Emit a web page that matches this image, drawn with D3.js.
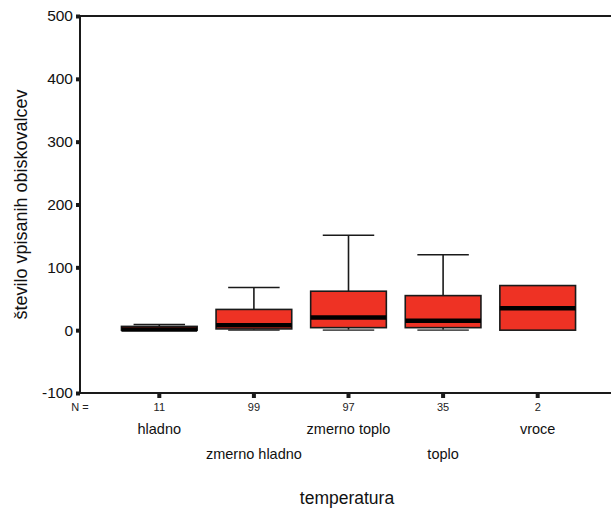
<!DOCTYPE html>
<html>
<head>
<meta charset="utf-8">
<script src="https://cdn.jsdelivr.net/npm/d3@7"></script>
<style>
  html, body { margin: 0; padding: 0; background: #fff; }
  svg { display: block; font-family: "Liberation Sans", Arial, sans-serif; }
</style>
</head>
<body>
<svg id="chart" width="611" height="511"></svg>
<script>
// Box plot: number of enrolled visitors by temperature class
const categories = ["hladno", "zmerno hladno", "zmerno toplo", "toplo", "vroce"];
const counts     = [11, 99, 97, 35, 2];
const whiskerLow = [0, 0, 0, 0, 0];
const q1         = [0, 2, 4, 4, 0];
const medians    = [1, 8, 20, 15, 35];
const q3         = [6, 33, 62, 55, 71];
const whiskerHigh= [9, 68, 151, 120, 71];
const yTicks     = [-100, 0, 100, 200, 300, 400, 500];

const svg = d3.select("#chart");
const plotLeft = 80, plotRight = 611, plotTop = 16, plotBottom = 393;
const fontFam = "Liberation Sans, Arial, sans-serif";

const x = d3.scaleBand().domain(categories).range([112, 585]).paddingInner(0.2).paddingOuter(0.1);
const y = d3.scaleLinear().domain([-100, 500]).range([plotBottom, plotTop]);

const ink = "#1a1a1a";
const fill = "#ee3224";

// frame lines
svg.append("line").attr("x1", plotLeft).attr("x2", plotRight).attr("y1", plotTop).attr("y2", plotTop)
  .attr("stroke", ink).attr("stroke-width", 2);
svg.append("line").attr("x1", plotLeft).attr("x2", plotRight).attr("y1", plotBottom).attr("y2", plotBottom)
  .attr("stroke", ink).attr("stroke-width", 2);

// y axis
const yAxis = d3.axisLeft(y).tickValues(yTicks).tickSize(0).tickPadding(7).tickFormat(d => String(d));
const gy = svg.append("g").attr("transform", `translate(${plotLeft},0)`).call(yAxis);
gy.attr("font-family", fontFam);
gy.select(".domain").attr("stroke", ink).attr("stroke-width", 2).attr("d", `M0,${plotTop}V${plotBottom}`);
gy.selectAll("text").attr("font-size", 15.5).attr("fill", "#111");
gy.selectAll(".tick").append("rect").attr("x", -4).attr("y", -2).attr("width", 4).attr("height", 4).attr("fill", ink);

// x tick markers and N counts
const bw = x.bandwidth();
const cx = c => x(c) + bw / 2;
svg.selectAll(".xt").data(categories).join("rect")
  .attr("x", d => cx(d) - 2).attr("y", plotBottom + 1).attr("width", 4).attr("height", 4).attr("fill", ink);
svg.selectAll(".nlab").data(categories).join("text")
  .attr("x", d => cx(d)).attr("y", 411).attr("text-anchor", "middle")
  .attr("font-size", 11).attr("fill", "#222").text((d, i) => counts[i]);
svg.append("text").attr("x", plotLeft).attr("y", 411).attr("text-anchor", "middle")
  .attr("font-size", 11).attr("fill", "#222").text("N =");

// category labels, staggered on two rows
svg.selectAll(".clab").data(categories).join("text")
  .attr("x", d => cx(d)).attr("y", (d, i) => i % 2 === 0 ? 434 : 459)
  .attr("text-anchor", "middle").attr("font-size", 14.5).attr("fill", "#111").text(d => d);

// axis titles
svg.append("text").attr("x", 347).attr("y", 504).attr("text-anchor", "middle")
  .attr("font-size", 17.5).attr("fill", "#111").text("temperatura");
svg.append("text").attr("transform", `translate(27,${y(200)}) rotate(-90)`)
  .attr("text-anchor", "middle").attr("font-size", 18).attr("fill", "#111")
  .text("število vpisanih obiskovalcev");

// boxes
const capW = bw * 0.68;
const g = svg.append("g");
categories.forEach((c, i) => {
  const m = cx(c);
  const grp = g.append("g");
  // upper whisker
  if (whiskerHigh[i] > q3[i]) {
    grp.append("line").attr("x1", m).attr("x2", m).attr("y1", y(q3[i])).attr("y2", y(whiskerHigh[i]))
      .attr("stroke", ink).attr("stroke-width", 1.6);
    grp.append("line").attr("x1", m - capW / 2).attr("x2", m + capW / 2)
      .attr("y1", y(whiskerHigh[i])).attr("y2", y(whiskerHigh[i])).attr("stroke", ink).attr("stroke-width", 1.6);
  }
  // lower whisker (groups with more than two cases)
  if (counts[i] > 2) {
    grp.append("line").attr("x1", m).attr("x2", m).attr("y1", y(q1[i])).attr("y2", y(whiskerLow[i]))
      .attr("stroke", ink).attr("stroke-width", 1.6);
    grp.append("line").attr("x1", m - capW / 2).attr("x2", m + capW / 2)
      .attr("y1", y(whiskerLow[i])).attr("y2", y(whiskerLow[i])).attr("stroke", "#555").attr("stroke-width", 1.6);
  }
  // box
  grp.append("rect").attr("x", x(c)).attr("width", bw)
    .attr("y", y(q3[i])).attr("height", Math.max(1, y(q1[i]) - y(q3[i])))
    .attr("fill", fill).attr("stroke", ink).attr("stroke-width", 1.6);
  // median
  grp.append("line").attr("x1", x(c)).attr("x2", x(c) + bw)
    .attr("y1", y(medians[i])).attr("y2", y(medians[i])).attr("stroke", "#000").attr("stroke-width", 4.5);
});
</script>
</body>
</html>
